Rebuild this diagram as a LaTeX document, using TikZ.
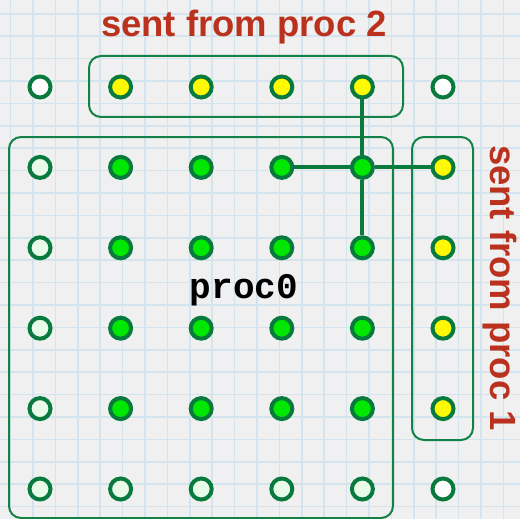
\documentclass[tikz,border=0pt]{standalone}
\usepackage{fontspec}
\setmainfont{Liberation Sans}
\newfontfamily\monob{Liberation Mono}
\definecolor{bgc}{RGB}{240,240,240}
\definecolor{gridc}{RGB}{212,228,238}
\definecolor{dkgreen}{RGB}{8,122,62}
\definecolor{boxgreen}{RGB}{20,130,70}
\definecolor{brgreen}{RGB}{0,232,0}
\definecolor{palegreen}{RGB}{232,250,232}
\definecolor{ylw}{RGB}{255,250,0}
\definecolor{redt}{RGB}{186,50,30}
\tikzset{
  dot/.style={circle,draw=dkgreen,line width=4pt,minimum size=21pt,inner sep=0pt},
  wdot/.style={dot,fill=white},
  pdot/.style={dot,fill=palegreen},
  gdot/.style={dot,fill=brgreen},
  ydot/.style={dot,fill=ylw},
  grp/.style={draw=boxgreen,line width=2pt,rounded corners=12pt},
  link/.style={draw=dkgreen,line width=4pt},
  redlabel/.style={text=redt,font=\fontsize{36.5}{40}\selectfont\bfseries,inner sep=0pt},
}
\begin{document}
\begin{tikzpicture}[x=1pt,y=-1pt]
\useasboundingbox (0,0) rectangle (520,519);
\fill[bgc] (0,0) rectangle (520,519);
\foreach \k in {0,...,22} {
  \draw[gridc,line width=1.5pt] ({10.6+22.4*\k},0) -- ({10.6+22.4*\k},519);
  \draw[gridc,line width=1.5pt] (0,{13.8+22.4*\k}) -- (520,{13.8+22.4*\k});
}
% group boxes
\draw[grp] (89,56) rectangle (403,117);
\draw[grp] (9,137) rectangle (393,518);
\draw[grp] (412,137) rectangle (473,440);
% dots
\foreach \c in {1,...,6} {
  \foreach \r in {1,...,6} {
    \pgfmathsetmacro{\px}{40+80.6*(\c-1)}
    \pgfmathsetmacro{\py}{87+80.4*(\r-1)}
    \ifnum\r=1
      \ifnum\c=1 \def\st{wdot}\else\ifnum\c=6 \def\st{wdot}\else\def\st{ydot}\fi\fi
    \else
      \ifnum\c=6
        \ifnum\r=6 \def\st{wdot}\else\def\st{ydot}\fi
      \else
        \ifnum\c=1 \def\st{pdot}\else\ifnum\r=6 \def\st{pdot}\else\def\st{gdot}\fi\fi
      \fi
    \fi
    \node[\st] (d-\c-\r) at (\px,\py) {};
  }
}
% connectors
\draw[link] (d-5-1) -- (d-5-2) -- (d-5-3);
\draw[link] (d-4-2) -- (d-5-2) -- (d-6-2);
% labels
\node[redlabel,anchor=base] (t2) at (244,37) {sent from proc 2};
\node[redlabel,anchor=base,rotate=-90] (t1) at (490,288) {sent from proc 1};
\node[anchor=base,inner sep=0pt,font=\fontsize{36}{40}\monob\bfseries] (p0) at (244,298) {proc0};
\end{tikzpicture}
\end{document}
